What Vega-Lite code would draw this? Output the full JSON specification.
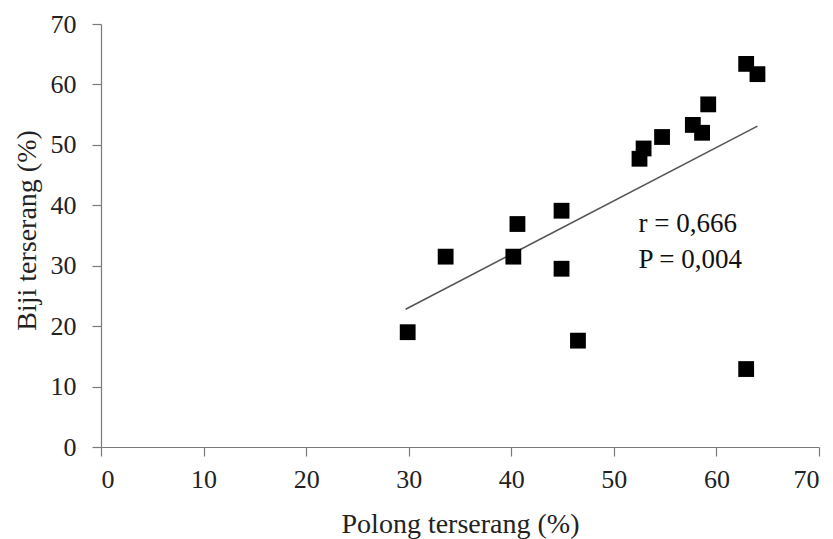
{
  "$schema": "https://vega.github.io/schema/vega-lite/v6.json",
  "width": 718,
  "height": 423,
  "autosize": {"type": "none"},
  "padding": {"left": 101, "top": 24, "right": 14, "bottom": 92},
  "background": "white",
  "config": {
    "view": {"stroke": null},
    "font": "Liberation Serif",
    "axis": {
      "grid": false,
      "domainColor": "#7a7a7a",
      "tickColor": "#7a7a7a",
      "domainWidth": 1.2,
      "tickWidth": 1.2,
      "tickSize": 9,
      "labelFont": "Liberation Serif",
      "labelFontSize": 26,
      "labelColor": "#222",
      "titleFont": "Liberation Serif",
      "titleFontSize": 28,
      "titleFontWeight": "normal",
      "titleColor": "#222"
    }
  },
  "datasets": {
    "pts": [
      {"polong": 29.9, "biji": 19.0},
      {"polong": 33.6, "biji": 31.5},
      {"polong": 40.2, "biji": 31.5},
      {"polong": 40.6, "biji": 36.9},
      {"polong": 44.9, "biji": 39.1},
      {"polong": 44.9, "biji": 29.5},
      {"polong": 46.5, "biji": 17.6},
      {"polong": 52.5, "biji": 47.7},
      {"polong": 52.9, "biji": 49.4},
      {"polong": 54.7, "biji": 51.3},
      {"polong": 57.7, "biji": 53.3},
      {"polong": 58.6, "biji": 52.0},
      {"polong": 59.2, "biji": 56.7},
      {"polong": 62.9, "biji": 63.4},
      {"polong": 64.0, "biji": 61.7},
      {"polong": 62.9, "biji": 12.9}
    ],
    "fit": [
      {"polong": 29.7, "biji": 22.8},
      {"polong": 64.0, "biji": 53.1}
    ],
    "notes": [
      {"polong": 52.4, "biji": 35.5, "label": "r = 0,666"},
      {"polong": 52.4, "biji": 29.7, "label": "P = 0,004"}
    ]
  },
  "encoding": {
    "x": {
      "field": "polong",
      "type": "quantitative",
      "scale": {"domain": [0, 70], "nice": false, "zero": true},
      "axis": {
        "values": [0, 10, 20, 30, 40, 50, 60, 70],
        "title": "Polong terserang (%)",
        "labelPadding": 10,
        "titleBaseline": "alphabetic",
        "titleY": 85
      }
    },
    "y": {
      "field": "biji",
      "type": "quantitative",
      "scale": {"domain": [0, 70], "nice": false},
      "axis": {
        "values": [0, 10, 20, 30, 40, 50, 60, 70],
        "title": "Biji  terserang (%)",
        "labelPadding": 16,
        "titleBaseline": "alphabetic",
        "titleX": -66,
        "titleY": 206
      }
    }
  },
  "layer": [
    {
      "data": {"name": "fit"},
      "mark": {"type": "line", "color": "#555", "strokeWidth": 1.6}
    },
    {
      "data": {"name": "pts"},
      "mark": {"type": "point", "shape": "square", "filled": true, "color": "#000", "opacity": 1, "size": 250}
    },
    {
      "data": {"name": "notes"},
      "mark": {"type": "text", "align": "left", "baseline": "alphabetic", "font": "Liberation Serif", "fontSize": 27, "color": "#111"},
      "encoding": {"text": {"field": "label"}}
    }
  ]
}
